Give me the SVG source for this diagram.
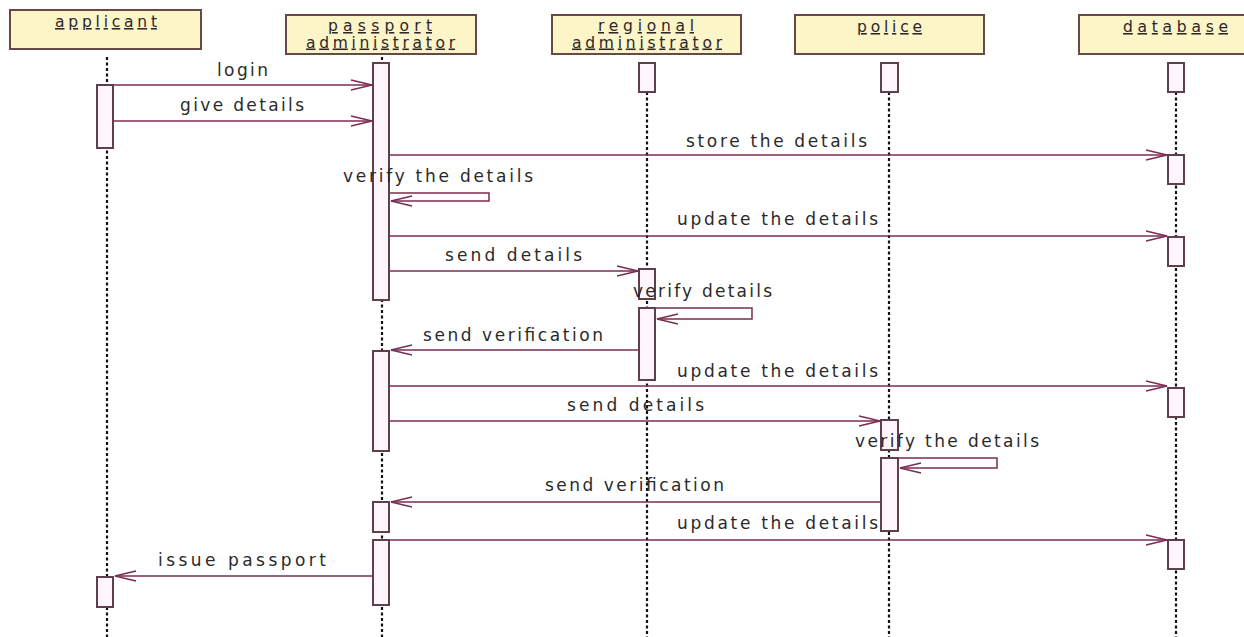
<svg xmlns="http://www.w3.org/2000/svg" width="1244" height="637" viewBox="0 0 1244 637">
<style>
.hdr{fill:#fbf5c8;stroke:#6b4848;stroke-width:2}
.htxt{font-family:"DejaVu Sans","Liberation Sans",Arial,sans-serif;font-size:15.5px;fill:#2e262c;text-decoration:underline}
.act{fill:#fff6fc;stroke:#5e3f4e;stroke-width:2}
.life{stroke:#111;stroke-width:2.2;stroke-dasharray:3 2.5;fill:none}
.msg{stroke:#7a2c52;stroke-width:1.5;fill:none}
.lbl{font-family:"DejaVu Sans","Liberation Sans",Arial,sans-serif;font-size:17px;fill:#2a2a2a}
</style>
<defs>
<marker id="arr" markerUnits="userSpaceOnUse" markerWidth="26" markerHeight="14" refX="22" refY="6" orient="auto">
<path d="M1,1 L22,6 L1,11" fill="none" stroke="#7a2c52" stroke-width="1.3"/>
</marker>
</defs>
<rect width="1244" height="637" fill="#fff"/>

<g id="lifelines">
<line class="life" x1="107" y1="57" x2="107" y2="637"/>
<line class="life" x1="382" y1="57" x2="382" y2="637"/>
<line class="life" x1="647" y1="92" x2="647" y2="637"/>
<line class="life" x1="889" y1="92" x2="889" y2="637"/>
<line class="life" x1="1176" y1="92" x2="1176" y2="637"/>
</g>

<g id="applicant">
<rect class="hdr" x="10" y="10" width="191" height="39"/>
<text class="htxt" x="106" y="27" text-anchor="middle" textLength="102" lengthAdjust="spacing">applicant</text>
<rect class="act" x="97" y="85" width="16" height="63"/>
<rect class="act" x="97" y="577" width="16" height="30"/>
</g>

<g id="passport-administrator">
<rect class="hdr" x="286" y="15" width="190" height="39"/>
<text class="htxt" x="380" y="31" text-anchor="middle" textLength="104" lengthAdjust="spacing">passport</text>
<text class="htxt" x="380.5" y="47.5" text-anchor="middle" textLength="149" lengthAdjust="spacing">administrator</text>
<rect class="act" x="373" y="63" width="16" height="237"/>
<rect class="act" x="373" y="351" width="16" height="100"/>
<rect class="act" x="373" y="502" width="16" height="30"/>
<rect class="act" x="373" y="540" width="16" height="65"/>
</g>

<g id="regional-administrator">
<rect class="hdr" x="552" y="15" width="189" height="39"/>
<text class="htxt" x="646" y="31" text-anchor="middle" textLength="96" lengthAdjust="spacing">regional</text>
<text class="htxt" x="647" y="47.5" text-anchor="middle" textLength="150" lengthAdjust="spacing">administrator</text>
<rect class="act" x="639" y="63" width="16" height="29"/>
<rect class="act" x="639" y="269" width="16" height="30"/>
<rect class="act" x="639" y="308" width="16" height="72"/>
</g>

<g id="police">
<rect class="hdr" x="795" y="15" width="189" height="39"/>
<text class="htxt" x="889.5" y="32" text-anchor="middle" textLength="65" lengthAdjust="spacing">police</text>
<rect class="act" x="881" y="63" width="17" height="29"/>
<rect class="act" x="881" y="420" width="17" height="30"/>
<rect class="act" x="881" y="458" width="17" height="73"/>
</g>

<g id="database">
<rect class="hdr" x="1079" y="15" width="170" height="39"/>
<text class="htxt" x="1175.5" y="32" text-anchor="middle" textLength="105" lengthAdjust="spacing">database</text>
<rect class="act" x="1168" y="63" width="16" height="29"/>
<rect class="act" x="1168" y="155" width="16" height="29"/>
<rect class="act" x="1168" y="237" width="16" height="29"/>
<rect class="act" x="1168" y="388" width="16" height="29"/>
<rect class="act" x="1168" y="540" width="16" height="29"/>
</g>

<g id="connectors">
<line class="msg" x1="113" y1="85" x2="372" y2="85" marker-end="url(#arr)"/>
<line class="msg" x1="113" y1="121" x2="372" y2="121" marker-end="url(#arr)"/>
<line class="msg" x1="389" y1="155" x2="1167" y2="155" marker-end="url(#arr)"/>
<polyline class="msg" points="389,193 489,193 489,201 391,201" marker-end="url(#arr)"/>
<line class="msg" x1="389" y1="236" x2="1167" y2="236" marker-end="url(#arr)"/>
<line class="msg" x1="389" y1="271" x2="638" y2="271" marker-end="url(#arr)"/>
<polyline class="msg" points="655,308 752,308 752,319 657,319" marker-end="url(#arr)"/>
<line class="msg" x1="638" y1="350" x2="391" y2="350" marker-end="url(#arr)"/>
<line class="msg" x1="389" y1="386" x2="1167" y2="386" marker-end="url(#arr)"/>
<line class="msg" x1="389" y1="421" x2="880" y2="421" marker-end="url(#arr)"/>
<polyline class="msg" points="898,458 997,458 997,468 900,468" marker-end="url(#arr)"/>
<line class="msg" x1="880" y1="502" x2="391" y2="502" marker-end="url(#arr)"/>
<line class="msg" x1="389" y1="540" x2="1167" y2="540" marker-end="url(#arr)"/>
<line class="msg" x1="372" y1="576" x2="115" y2="576" marker-end="url(#arr)"/>
</g>

<g id="labels">
<text class="lbl" x="217" y="76" textLength="51" lengthAdjust="spacing">login</text>
<text class="lbl" x="180" y="111" textLength="124" lengthAdjust="spacing">give details</text>
<text class="lbl" x="686" y="147" textLength="181" lengthAdjust="spacing">store the details</text>
<text class="lbl" x="343" y="182" textLength="190" lengthAdjust="spacing">verify the details</text>
<text class="lbl" x="677" y="225" textLength="201" lengthAdjust="spacing">update the details</text>
<text class="lbl" x="445" y="261" textLength="137" lengthAdjust="spacing">send details</text>
<text class="lbl" x="633" y="297" textLength="139" lengthAdjust="spacing">verify details</text>
<text class="lbl" x="423" y="341" textLength="180" lengthAdjust="spacing">send verification</text>
<text class="lbl" x="677" y="377" textLength="201" lengthAdjust="spacing">update the details</text>
<text class="lbl" x="567" y="411" textLength="137" lengthAdjust="spacing">send details</text>
<text class="lbl" x="855" y="447" textLength="184" lengthAdjust="spacing">verify the details</text>
<text class="lbl" x="545" y="491" textLength="179" lengthAdjust="spacing">send verification</text>
<text class="lbl" x="677" y="529" textLength="201" lengthAdjust="spacing">update the details</text>
<text class="lbl" x="158" y="566" textLength="168" lengthAdjust="spacing">issue passport</text>
</g>
</svg>
